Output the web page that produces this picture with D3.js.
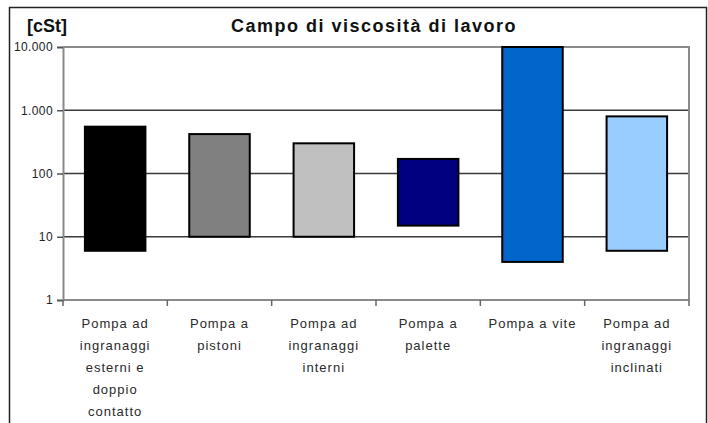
<!DOCTYPE html>
<html>
<head>
<meta charset="utf-8">
<script src="https://cdn.jsdelivr.net/npm/d3@7"></script>
<style>
  body { margin: 0; background: #fff; }
  svg { display: block; font-family: Arial, "Liberation Sans", sans-serif; }
  .title { font-weight: bold; font-size: 18px; fill: #111; }
  .ylab { font-size: 12px; fill: #222; letter-spacing: 0.4px; }
  .xlab { font-size: 13px; fill: #2a2a2a; letter-spacing: 1px; }
</style>
</head>
<body>
<script>
// categories (wrapped as in the picture)
var categories = [
  ['Pompa ad', 'ingranaggi', 'esterni e', 'doppio', 'contatto'],
  ['Pompa a', 'pistoni'],
  ['Pompa ad', 'ingranaggi', 'interni'],
  ['Pompa a', 'palette'],
  ['Pompa a vite'],
  ['Pompa ad', 'ingranaggi', 'inclinati']
];
// viscosity range [cSt]
var minVisc = [6, 10, 10, 15, 4, 6];
var maxVisc = [550, 420, 300, 170, 10000, 800];
var colors = ['#000000', '#808080', '#c0c0c0', '#000080', '#0066cc', '#99ccff'];
var yTicks = [1, 10, 100, 1000, 10000];
var yTickLabels = ['1', '10', '100', '1.000', '10.000'];

var W = 708, H = 423;
var pLeft = 63, pRight = 689, pTop = 47, pBottom = 300;

var svg = d3.select('body').append('svg')
  .attr('width', W)
  .attr('height', H);

// outer chart frame (bottom edge falls outside the picture)
svg.append('rect')
  .attr('x', 9.5).attr('y', 7.5)
  .attr('width', 697).attr('height', 440)
  .attr('fill', 'none')
  .attr('stroke', '#222')
  .attr('stroke-width', 1.5);

var x = d3.scaleBand()
  .domain(d3.range(categories.length))
  .range([pLeft, pRight])
  .paddingInner(0.42)
  .paddingOuter(0.21);

var y = d3.scaleLog()
  .domain([1, 10000])
  .range([pBottom, pTop]);

// grid lines
svg.append('g').selectAll('line')
  .data(yTicks.slice(1, -1))
  .enter().append('line')
  .attr('x1', pLeft).attr('x2', pRight)
  .attr('y1', d => y(d)).attr('y2', d => y(d))
  .attr('stroke', '#3a3a3a')
  .attr('stroke-width', 1.5);

// plot area border (top and right)
svg.append('path')
  .attr('d', 'M' + pLeft + ',' + y(10000) + 'H' + pRight + 'V' + pBottom)
  .attr('fill', 'none')
  .attr('stroke', '#8a8a8a')
  .attr('stroke-width', 2);

// bars
svg.append('g').selectAll('rect')
  .data(categories)
  .enter().append('rect')
  .attr('x', (d, i) => x(i))
  .attr('width', x.bandwidth())
  .attr('y', (d, i) => y(maxVisc[i]))
  .attr('height', (d, i) => y(minVisc[i]) - y(maxVisc[i]))
  .attr('fill', (d, i) => colors[i])
  .attr('stroke', '#000')
  .attr('stroke-width', 2);

// y axis
var yAxis = d3.axisLeft(y)
  .tickValues(yTicks)
  .tickFormat((d, i) => yTickLabels[i])
  .tickSize(6)
  .tickPadding(4);

var gy = svg.append('g')
  .attr('transform', 'translate(' + pLeft + ',0)')
  .call(yAxis);
gy.attr('font-family', null).attr('font-size', null);
gy.select('.domain').attr('stroke', '#8a8a8a').attr('stroke-width', 2);
gy.selectAll('.tick line').attr('stroke', '#555').attr('stroke-width', 1.5);
gy.selectAll('.tick text').attr('class', 'ylab');

// x axis: ticks at category boundaries
var bounds = d3.range(categories.length + 1).map(i => pLeft + i * x.step());
svg.append('line')
  .attr('x1', pLeft).attr('x2', pRight)
  .attr('y1', pBottom).attr('y2', pBottom)
  .attr('stroke', '#8a8a8a')
  .attr('stroke-width', 2);
svg.append('g').selectAll('line')
  .data(bounds)
  .enter().append('line')
  .attr('x1', d => d).attr('x2', d => d)
  .attr('y1', pBottom).attr('y2', pBottom + 6)
  .attr('stroke', '#666')
  .attr('stroke-width', 1.5);

// category labels
var lab = svg.append('g').selectAll('text')
  .data(categories)
  .enter().append('text')
  .attr('class', 'xlab')
  .attr('text-anchor', 'middle')
  .attr('x', (d, i) => x(i) + x.bandwidth() / 2)
  .attr('y', 328);
lab.selectAll('tspan')
  .data(d => d)
  .enter().append('tspan')
  .attr('x', function() { return d3.select(this.parentNode).attr('x'); })
  .attr('dy', (d, i) => i === 0 ? 0 : 22)
  .text(d => d);

// titles
svg.append('text')
  .attr('class', 'title')
  .attr('x', 374).attr('y', 32)
  .attr('text-anchor', 'middle')
  .style('letter-spacing', '1.5px')
  .text('Campo di viscosità di lavoro');

svg.append('text')
  .attr('class', 'title')
  .attr('x', 27).attr('y', 32)
  .text('[cSt]');
</script>
</body>
</html>
